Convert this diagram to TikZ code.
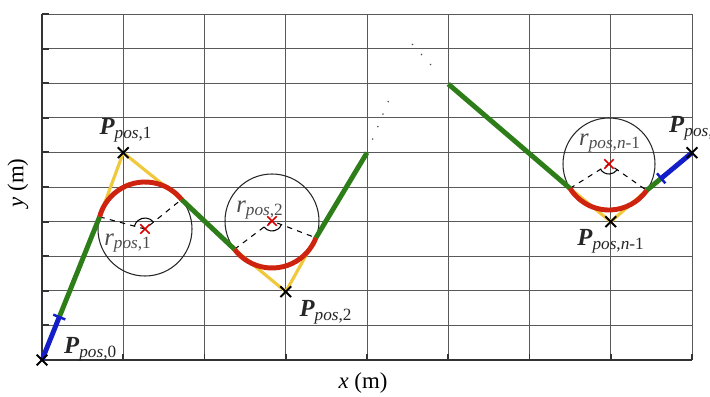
\documentclass[tikz,border=0pt]{standalone}
\usepackage{fontspec}
\setmainfont{Liberation Serif}
\usepackage{xcolor}
\usepackage{tikz}
\usetikzlibrary{calc,shapes.misc}

\definecolor{seggreen}{RGB}{45,125,25}
\definecolor{segblue}{RGB}{20,30,200}
\definecolor{segred}{RGB}{205,35,15}
\definecolor{segyellow}{RGB}{240,200,60}

\begin{document}
\begin{tikzpicture}[x=0.02cm,y=0.02cm,
  gridline/.style={black!65,line width=0.5pt},
  axisline/.style={black!80,line width=1.1pt},
  straight/.style={seggreen,line width=2.8pt},
  endseg/.style={segblue,line width=2.8pt},
  fillet/.style={segred,line width=2.8pt},
  corner/.style={segyellow,line width=1.8pt},
  ring/.style={black!85,line width=0.6pt},
  radius line/.style={black,dashed,line width=0.6pt},
  xmark/.style={cross out,draw=black,line width=1.1pt,inner sep=0pt,minimum size=5pt},
  cmark/.style={cross out,draw=red!85!black,line width=0.9pt,inner sep=0pt,minimum size=4.5pt},
  plabel/.style={font=\fontsize{14}{16}\selectfont,text=black!85},
  rlabel/.style={font=\fontsize{14}{16}\selectfont,text=black!70},
  dotpath/.style={black!70,line width=0.7pt,dash pattern=on 0.7pt off 7pt}]
  \useasboundingbox (0,0) rectangle (710,396);
  \foreach \i in {0,...,8} \draw[gridline] ({42+81.25*\i},36) -- ({42+81.25*\i},382);
  \foreach \j in {0,...,10} \draw[gridline] (42,{36+34.6*\j}) -- (692,{36+34.6*\j});
  \foreach \j in {1,...,10} \draw[axisline] (42,{36+34.6*\j}) -- ++(7,0);
  \foreach \i in {1,...,8} \draw[axisline] ({42+81.25*\i},36) -- ++(0,6);
  \draw[axisline] (42,382) -- (42,36) -- (692,36);

  \coordinate (P0) at (42,36);
  \coordinate (P1) at (123.25,243.3);
  \coordinate (P2) at (285.75,104.3);
  \coordinate (P3) at (367,243.3);
  \coordinate (pk) at (412,352);
  \coordinate (P4) at (448.25,312);
  \coordinate (Pm) at (610.75,174.3);
  \coordinate (Pn) at (692,243.3);
  \coordinate (C1) at (145,167);
  \coordinate (C2) at (272,175);
  \coordinate (Cm) at (609,232);
  \coordinate (A1) at ($(C1)+(165:47)$);
  \coordinate (B1) at ($(C1)+(39:47)$);
  \coordinate (A2) at ($(C2)+(217:47)$);
  \coordinate (B2) at ($(C2)+(339:47)$);
  \coordinate (Am) at ($(Cm)+(212:46)$);
  \coordinate (Bm) at ($(Cm)+(325:46)$);
  \coordinate (S0) at ($(P0)!0.3!(A1)$);
  \coordinate (Sn) at ($(Bm)!0.32!(Pn)$);

  \draw[ring] (C1) circle[radius=47];
  \draw[ring] (C2) circle[radius=47];
  \draw[ring] (Cm) circle[radius=46];
  \draw[radius line] (A1) -- (C1) -- (B1);
  \draw[radius line] (A2) -- (C2) -- (B2);
  \draw[radius line] (Am) -- (Cm) -- (Bm);
  \draw[black,line width=0.6pt] ($(C1)+(39:11)$) arc[start angle=39,end angle=165,radius=11];
  \draw[black,line width=0.6pt] ($(C2)+(217:10)$) arc[start angle=217,end angle=339,radius=10];
  \draw[black,line width=0.6pt] ($(Cm)+(212:10)$) arc[start angle=212,end angle=325,radius=10];

  \draw[corner] (A1) -- (P1) -- (B1);
  \draw[corner] (A2) -- (P2) -- (B2);
  \draw[corner] (Am) -- (Pm) -- (Bm);

  \draw[straight] (S0) -- (A1);
  \draw[straight] (B1) -- (A2);
  \draw[straight] (B2) -- (P3);
  \draw[straight] (P4) -- (Am);
  \draw[straight] (Bm) -- (Sn);
  \draw[dotpath] ($(P3)!0.12!(pk)$) -- ($(P3)!0.5!(pk)$);
  \draw[dotpath] (pk) -- ($(pk)!0.75!(P4)$);
  \draw[endseg] (P0) -- (S0);
  \draw[endseg] (Sn) -- (Pn);
  \draw[segblue,line width=1.4pt] ($(S0)!0.13cm!90:(A1)$) -- ($(S0)!0.13cm!-90:(A1)$);
  \draw[segblue,line width=1.4pt] ($(Sn)!0.13cm!90:(Pn)$) -- ($(Sn)!0.13cm!-90:(Pn)$);

  \draw[fillet] (A1) arc[start angle=165,end angle=39,radius=47];
  \draw[fillet] (A2) arc[start angle=217,end angle=339,radius=47];
  \draw[fillet] (Am) arc[start angle=212,end angle=325,radius=46];

  \node[xmark] (x0) at (P0) {};
  \node[xmark] (x1) at (P1) {};
  \node[xmark] (x2) at (P2) {};
  \node[xmark] (xm) at (Pm) {};
  \node[xmark] (xn) at (Pn) {};
  \node[cmark] (c1) at (C1) {};
  \node[cmark] (c2) at (C2) {};
  \node[cmark] (cm) at (Cm) {};

  \node[plabel,anchor=west] (lP0) at (58,47) {\textbf{\textit{P}}\textsubscript{\textit{pos},0}};
  \node[plabel] (lP1) at (126,266) {\textbf{\textit{P}}\textsubscript{\textit{pos},1}};
  \node[plabel] (lP2) at (326,84) {\textbf{\textit{P}}\textsubscript{\textit{pos},2}};
  \node[plabel] (lPm) at (611,155) {\textbf{\textit{P}}\textsubscript{\textit{pos},\textit{n}-1}};
  \node[plabel,anchor=west] (lPn) at (663,268) {\textbf{\textit{P}}\textsubscript{\textit{pos},\textit{n}}};
  \node[rlabel] (lr1) at (128,153) {\textit{r}\textsubscript{\textit{pos},1}};
  \node[rlabel] (lr2) at (260,186) {\textit{r}\textsubscript{\textit{pos},2}};
  \node[rlabel] (lrm) at (610,253) {\textit{r}\textsubscript{\textit{pos},\textit{n}-1}};

  \node[font=\fontsize{13}{15}\selectfont] (xlab) at (363,13) {\textit{x} (m)};
  \node[font=\fontsize{13}{15}\selectfont,rotate=90] (ylab) at (18,213) {\textit{y} (m)};
\end{tikzpicture}
\end{document}
